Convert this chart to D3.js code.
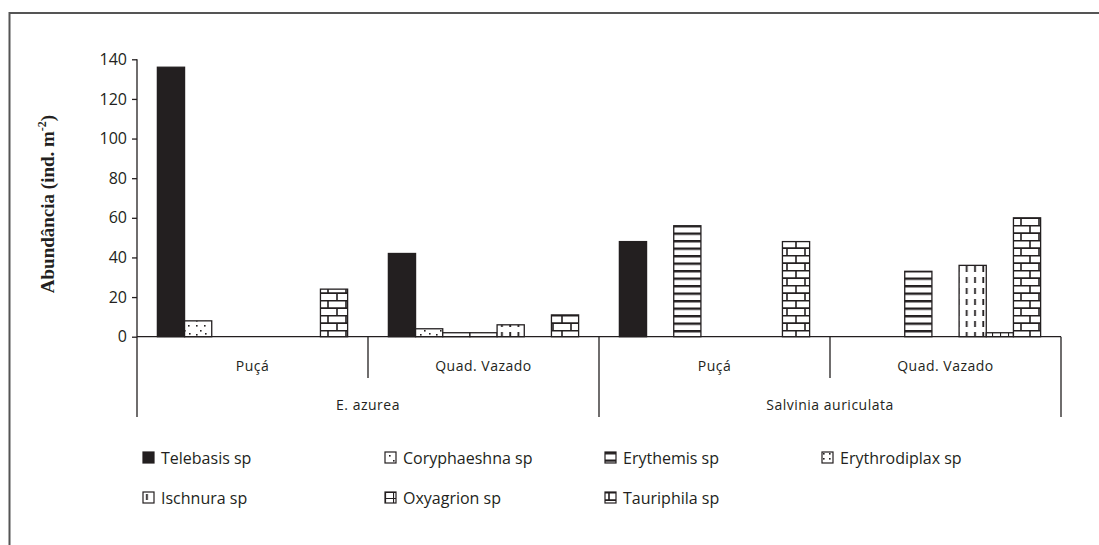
<!DOCTYPE html>
<html>
<head>
<meta charset="utf-8">
<script src="https://cdn.jsdelivr.net/npm/d3@7"></script>
<style>
  body { margin: 0; background: #fff; }
  svg { display: block; }
  .tick text { font-family: "Open Sans", sans-serif; font-size: 16px; fill: #231f20; }
</style>
</head>
<body>
<div id="chart"></div>
<script>
// data
var groups = ['Puçá', 'Quad. Vazado', 'Puçá', 'Quad. Vazado'];
var macrophytes = ['E. azurea', 'Salvinia auriculata'];
var species = ['Telebasis sp', 'Coryphaeshna sp', 'Erythemis sp', 'Erythrodiplax sp',
               'Ischnura sp', 'Oxyagrion sp', 'Tauriphila sp'];
var telebasis = [136, 42, 48, 0];
var coryphaeshna = [8, 4, 0, 0];
var erythemis = [0, 2, 56, 33];
var erythrodiplax = [0, 2, 0, 0];
var ischnura = [0, 6, 0, 36];
var oxyagrion = [0, 0, 0, 2];
var tauriphila = [24, 11, 48, 60];
var yTicks = [0, 20, 40, 60, 80, 100, 120, 140];

var series = [telebasis, coryphaeshna, erythemis, erythrodiplax, ischnura, oxyagrion, tauriphila];
var patternIds = ['solid', 'dots', 'hstripe', 'fdots', 'vdash', 'grid', 'brick'];

var ink = '#231f20';
var width = 1099, height = 545;
var plotLeft = 137, plotRight = 1061, plotTop = 59.3, base = 336.7;

var svg = d3.select('#chart').append('svg').attr('width', width).attr('height', height);
var defs = svg.append('defs');

// fill patterns
function pat(id, w, h) {
    var p = defs.append('pattern').attr('id', id).attr('patternUnits', 'userSpaceOnUse')
        .attr('width', w).attr('height', h);
    p.append('rect').attr('width', w).attr('height', h).attr('fill', '#fff');
    return p;
}
var p;
p = pat('solid', 4, 4); p.select('rect').attr('fill', ink);
p = pat('dots', 16, 14);
[[4, 3], [12, 3], [8, 8], [4, 12], [13, 11]].forEach(function(d) {
    p.append('rect').attr('x', d[0]).attr('y', d[1]).attr('width', 1.6).attr('height', 1.6).attr('fill', ink);
});
p = pat('hstripe', 8, 7.5);
p.append('rect').attr('x', 0).attr('y', 0).attr('width', 8).attr('height', 2.4).attr('fill', ink);
p = pat('fdots', 6, 5);
p.append('rect').attr('x', 1).attr('y', 1).attr('width', 1.6).attr('height', 1.6).attr('fill', ink);
p = pat('vdash', 8.3, 11);
p.append('rect').attr('x', 3).attr('y', 2).attr('width', 1.8).attr('height', 6).attr('fill', ink);
p = pat('grid', 8, 6);
p.append('path').attr('d', 'M0,0.5H8M0.5,0V6').attr('stroke', ink).attr('stroke-width', 1.2);
p = pat('brick', 18, 15);
p.append('path').attr('d', 'M0,0.6H18M0,8.1H18M4,0V7.5M13,7.5V15')
    .attr('stroke', ink).attr('stroke-width', 1.6);

// scales
var x0 = d3.scaleBand().domain(d3.range(groups.length)).range([plotLeft, plotRight]).padding(0);
var x1 = d3.scaleBand().domain(d3.range(species.length)).range([0, x0.bandwidth()])
    .paddingInner(0).paddingOuter(0.75);
var y = d3.scaleLinear().domain([0, 140]).range([base, plotTop]);

// outer frame
svg.append('path').attr('d', 'M9.5,560V13H1110').attr('fill', 'none')
    .attr('stroke', '#555').attr('stroke-width', 2);

// bars
var barData = [];
series.forEach(function(vals, s) {
    vals.forEach(function(v, g) { if (v > 0) barData.push({s: s, g: g, v: v}); });
});
svg.append('g').selectAll('rect').data(barData).enter().append('rect')
    .attr('x', function(d) { return x0(d.g) + x1(d.s); })
    .attr('y', function(d) { return y(d.v); })
    .attr('width', x1.bandwidth())
    .attr('height', function(d) { return base - y(d.v); })
    .attr('fill', function(d) { return 'url(#' + patternIds[d.s] + ')'; })
    .attr('stroke', ink).attr('stroke-width', 1.3);

// y axis
var yAxis = svg.append('g').attr('transform', 'translate(' + plotLeft + ',0)')
    .call(d3.axisLeft(y).tickValues(yTicks).tickSize(5).tickPadding(5));
yAxis.select('.domain').attr('d', 'M0,' + plotTop + 'V417').attr('stroke', ink).attr('stroke-width', 1.3);
yAxis.selectAll('.tick line').attr('stroke', ink).attr('stroke-width', 1.3);

// x axis line and separators
svg.append('line').attr('x1', plotLeft).attr('x2', plotRight).attr('y1', base).attr('y2', base)
    .attr('stroke', ink).attr('stroke-width', 1.3);
var seps = [[x0(1), 378], [x0(2), 417], [x0(3), 378], [plotRight, 417]];
svg.selectAll('line.sep').data(seps).enter().append('line').attr('class', 'sep')
    .attr('x1', function(d) { return d[0]; }).attr('x2', function(d) { return d[0]; })
    .attr('y1', base).attr('y2', function(d) { return d[1]; })
    .attr('stroke', ink).attr('stroke-width', 1.3);

// category labels
svg.selectAll('text.grp').data(groups).enter().append('text').attr('class', 'grp')
    .attr('x', function(d, i) { return x0(i) + x0.bandwidth() / 2; })
    .attr('y', 371).attr('text-anchor', 'middle')
    .style('font-family', '"Open Sans", sans-serif').style('font-size', '14px')
    .style('letter-spacing', '0.5px').attr('fill', ink).text(function(d) { return d; });
svg.selectAll('text.mac').data(macrophytes).enter().append('text').attr('class', 'mac')
    .attr('x', function(d, i) { return x0(i * 2) + x0.bandwidth(); })
    .attr('y', 410).attr('text-anchor', 'middle')
    .style('font-family', '"Open Sans", sans-serif').style('font-size', '14px')
    .style('letter-spacing', '0.5px').attr('fill', ink).text(function(d) { return d; });

// y title
var title = svg.append('text').attr('transform', 'translate(54,204) rotate(-90)')
    .attr('text-anchor', 'middle')
    .style('font-family', '"Liberation Serif", serif').style('font-weight', 'bold').style('font-size', '19px')
    .attr('fill', ink);
title.append('tspan').text('Abundância (ind. m');
title.append('tspan').attr('dy', -8).style('font-size', '12px').text('-2');
title.append('tspan').attr('dy', 8).text(')');

// legend
var legX = [143, 385, 605, 822];
var legend = svg.selectAll('g.leg').data(species).enter().append('g').attr('class', 'leg')
    .attr('transform', function(d, i) {
        return 'translate(' + legX[i % 4] + ',' + (i < 4 ? 452 : 492) + ')';
    });
legend.append('rect').attr('width', 11).attr('height', 11)
    .attr('fill', function(d, i) { return 'url(#' + patternIds[i] + ')'; })
    .attr('stroke', ink).attr('stroke-width', 1.2);
legend.append('text').attr('x', 18).attr('y', 11.5)
    .style('font-family', '"Open Sans", sans-serif').style('font-size', '16px')
    .attr('fill', ink).text(function(d) { return d; });
</script>
</body>
</html>
